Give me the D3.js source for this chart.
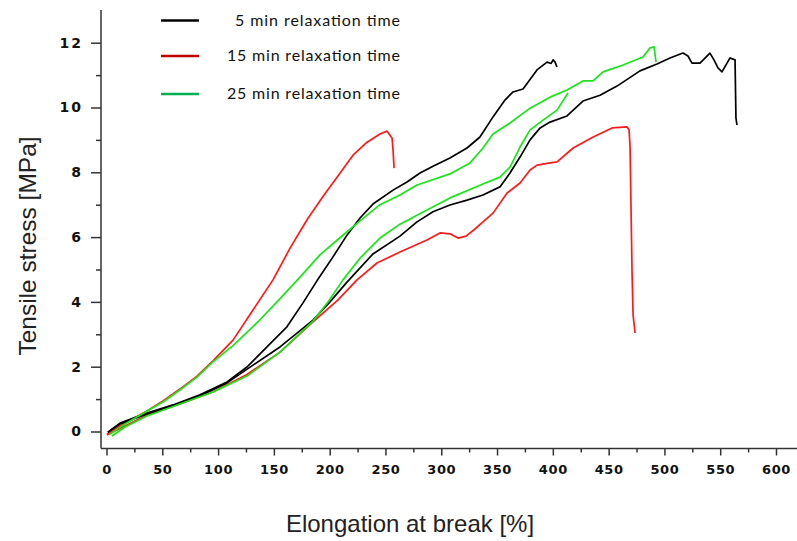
<!DOCTYPE html>
<html>
<head>
<meta charset="utf-8">
<script src="https://cdn.jsdelivr.net/npm/d3@7"></script>
<style>
  html, body { margin: 0; padding: 0; background: #fff; }
  svg { display: block; }
</style>
</head>
<body>
<script>
// ---------- data (elongation %, tensile stress MPa) ----------
const legendLabels = [" 5 min relaxation time", "15 min relaxation time", "25 min relaxation time"];
const xTickValues = [0, 50, 100, 150, 200, 250, 300, 350, 400, 450, 500, 550, 600];
const yTickValues = [0, 2, 4, 6, 8, 10, 12];
const xTitle = "Elongation at break [%]";
const yTitle = "Tensile stress [MPa]";

// 5 min relaxation time (two specimens)
const min5_a = [[1.3,-0.02],[12.1,0.26],[36.3,0.57],[59.6,0.82],[83.8,1.13],[108,1.53],[125.9,1.99],[143.8,2.61],[161.7,3.23],[176.1,3.97],[188.6,4.65],[203,5.39],[215.5,6.06],[227.2,6.59],[238.8,7.02],[256.8,7.45],[269.3,7.70],[281,7.98],[292.6,8.19],[307.8,8.44],[323.1,8.75],[334.7,9.09],[346.4,9.71],[357.1,10.23],[364.3,10.48],[373.3,10.57],[385.8,11.16],[394.8,11.40],[398.5,11.36],[400.2,11.47],[402,11.40],[403.7,11.25]];
const min5_b = [[1.3,-0.02],[12.1,0.23],[36.3,0.54],[59.6,0.79],[83.8,1.10],[108,1.50],[131.3,2.05],[155.5,2.61],[185.1,3.44],[200.3,4.00],[215.5,4.61],[238.8,5.48],[263,6.03],[278.3,6.47],[292.6,6.78],[307.8,6.99],[323.1,7.14],[337.4,7.30],[352.6,7.55],[361.6,7.98],[370.6,8.47],[379.6,9.00],[388.6,9.37],[397.5,9.55],[412.7,9.74],[427,10.20],[442.3,10.38],[457.5,10.66],[478.1,11.13],[493.4,11.34],[505,11.53],[516.6,11.68],[521.1,11.59],[524.7,11.37],[531.9,11.37],[540.8,11.68],[544.4,11.47],[548,11.22],[551.6,11.10],[558.8,11.53],[563.3,11.47],[564.1,9.68],[565,9.46]];

// 15 min relaxation time
const min15_a = [[0.4,-0.08],[16.6,0.26],[36.3,0.63],[50.6,0.94],[65.8,1.31],[81.1,1.71],[95.4,2.18],[113.4,2.82],[131.3,3.75],[149.2,4.68],[164.5,5.66],[180,6.55],[194,7.25],[206.6,7.85],[220.9,8.53],[233.5,8.93],[245.1,9.18],[251.4,9.27],[255.9,9.06],[256.8,8.69],[257.7,8.13]];
const min15_b = [[0.4,-0.11],[16.6,0.17],[36.3,0.51],[65.8,0.85],[95.4,1.22],[125.9,1.76],[155.5,2.45],[185.1,3.38],[207.5,4.06],[224.5,4.68],[242.4,5.20],[263,5.54],[287.2,5.91],[298.9,6.13],[307.8,6.10],[315,5.97],[322.2,6.03],[330.2,6.25],[337.4,6.47],[346.4,6.74],[359,7.36],[370.6,7.67],[379.6,8.07],[385.8,8.22],[397.5,8.29],[403.8,8.32],[418.2,8.75],[436.2,9.09],[453.1,9.37],[466.5,9.40],[468.3,9.31],[469.2,8.78],[471,4.89],[471.9,3.60],[473.7,3.04]];

// 25 min relaxation time
const min25_a = [[3.1,-0.08],[16.6,0.23],[36.3,0.63],[50.6,0.91],[65.8,1.28],[81.1,1.68],[95.4,2.15],[113.4,2.65],[137.6,3.45],[155.5,4.10],[173,4.75],[191.3,5.45],[209.2,5.98],[227.2,6.50],[245.1,7.00],[263,7.30],[278.3,7.61],[307.8,7.95],[325.8,8.29],[337.4,8.75],[346.4,9.18],[361.6,9.52],[379.6,9.98],[397.5,10.32],[412.7,10.54],[427,10.82],[436,10.82],[445,11.10],[462.9,11.31],[480.8,11.56],[487.1,11.84],[490.7,11.87],[492.5,11.40]];
const min25_b = [[4.9,-0.14],[16.6,0.14],[36.3,0.48],[65.8,0.85],[95.4,1.22],[125.9,1.71],[155.5,2.45],[185.1,3.41],[198.5,4.00],[211.9,4.68],[227.2,5.35],[245.1,5.97],[263,6.40],[287.2,6.84],[307.8,7.21],[337.4,7.64],[352.6,7.85],[361.6,8.16],[370.6,8.78],[379.6,9.31],[391.2,9.61],[403.8,9.92],[413.6,10.45]];

const seriesCurves = [min5_a, min5_b, min15_a, min15_b, min25_a, min25_b];
const seriesGroup  = [0, 0, 1, 1, 2, 2];

// ---------- styles ----------
const W = 797, H = 541;
const curveColors  = ["#000000", "#ff1a1a", "#19e619"];
const legendColors = ["#000000", "#c00000", "#00b050"];

const svg = d3.select("body").append("svg").attr("width", W).attr("height", H);

const x = d3.scaleLinear().domain([0, 600]).range([106.5, 776]);
const y = d3.scaleLinear().domain([0, 12]).range([431.5, 42.7]);

const axisY0 = 448.5;  // x-axis line position
const axisX0 = 101;    // y-axis line position

// ---------- curves ----------
const line = d3.line().x(d => x(d[0])).y(d => y(d[1])).curve(d3.curveLinear);
const drawOrder = [2, 3, 0, 1, 4, 5];
svg.append("g").selectAll("path")
  .data(drawOrder)
  .join("path")
  .attr("d", i => line(seriesCurves[i]))
  .attr("fill", "none")
  .attr("stroke", i => curveColors[seriesGroup[i]])
  .attr("stroke-width", 1.7)
  .attr("stroke-linejoin", "round");

// ---------- axes ----------
const axisColor = "#333";
const xAxis = svg.append("g").attr("transform", `translate(0,${axisY0})`)
  .call(d3.axisBottom(x).tickValues(xTickValues).tickSize(7).tickSizeOuter(0).tickPadding(9.3));
xAxis.select(".domain").remove();
xAxis.selectAll(".tick line").attr("stroke", axisColor).attr("stroke-width", 1.5);
xAxis.selectAll(".tick text")
  .attr("fill", "#111")
  .style("font-family", "'DejaVu Sans', sans-serif")
  .style("font-weight", "bold")
  .style("font-size", "13px")
  .style("letter-spacing", "0.6px");

const xMinor = svg.append("g").attr("transform", `translate(0,${axisY0})`)
  .call(d3.axisBottom(x).tickValues(d3.range(25, 600, 50)).tickSize(4).tickSizeOuter(0).tickFormat(""));
xMinor.select(".domain").remove();
xMinor.selectAll(".tick line").attr("stroke", axisColor).attr("stroke-width", 1.5);

const yAxis = svg.append("g").attr("transform", `translate(${axisX0},0)`)
  .call(d3.axisLeft(y).tickValues(yTickValues).tickSize(10).tickSizeOuter(0).tickPadding(8));
yAxis.select(".domain").remove();
yAxis.selectAll(".tick line").attr("stroke", axisColor).attr("stroke-width", 1.5);
yAxis.selectAll(".tick text")
  .attr("fill", "#111")
  .style("font-family", "'DejaVu Sans', sans-serif")
  .style("font-weight", "bold")
  .style("font-size", "14px")
  .style("letter-spacing", "2px");

const yMinor = svg.append("g").attr("transform", `translate(${axisX0},0)`)
  .call(d3.axisLeft(y).tickValues(d3.range(1, 13, 2)).tickSize(5).tickSizeOuter(0).tickFormat(""));
yMinor.select(".domain").remove();
yMinor.selectAll(".tick line").attr("stroke", axisColor).attr("stroke-width", 1.5);

// axis lines
svg.append("line").attr("x1", axisX0).attr("x2", axisX0).attr("y1", 10).attr("y2", axisY0)
  .attr("stroke", axisColor).attr("stroke-width", 1.5);
svg.append("line").attr("x1", axisX0).attr("x2", W).attr("y1", axisY0).attr("y2", axisY0)
  .attr("stroke", axisColor).attr("stroke-width", 1.5);

// ---------- titles ----------
svg.append("text")
  .attr("x", 410).attr("y", 532)
  .attr("text-anchor", "middle")
  .style("font-family", "'Liberation Sans', Arial, sans-serif")
  .style("font-size", "24px")
  .attr("fill", "#222")
  .text(xTitle);

svg.append("text")
  .attr("transform", "translate(36,246) rotate(-90)")
  .attr("text-anchor", "middle")
  .style("font-family", "'Liberation Sans', Arial, sans-serif")
  .style("font-size", "24.5px")
  .attr("fill", "#222")
  .text(yTitle);

// ---------- legend ----------
const legendY = [20.5, 56, 94];
const legend = svg.append("g");
legendLabels.forEach((lab, i) => {
  legend.append("line")
    .attr("x1", 161).attr("x2", 199)
    .attr("y1", legendY[i]).attr("y2", legendY[i])
    .attr("stroke", legendColors[i]).attr("stroke-width", 2.5);
  legend.append("text")
    .attr("x", 400).attr("y", legendY[i] + 5)
    .attr("text-anchor", "end")
    .style("font-family", "Lato, 'Open Sans', sans-serif")
    .style("font-size", "16px")
    .attr("fill", "#111")
    .attr("textLength", i === 0 ? 165 : 173)
    .attr("lengthAdjust", "spacing")
    .text(lab.trim());
});
</script>
</body>
</html>
